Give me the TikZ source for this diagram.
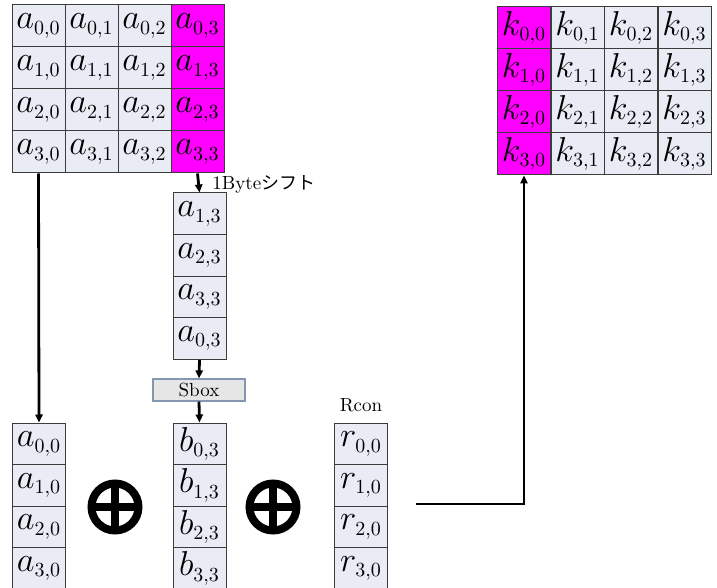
\documentclass[tikz,border=0pt]{standalone}
\usepackage{fontspec}
\newfontfamily\jpfont{Noto Sans CJK JP}
\usepackage{tikz}
\usetikzlibrary{arrows.meta,positioning,calc}
\DeclareMathSizes{16}{16}{10}{8}

\definecolor{cellfill}{RGB}{233,236,245}
\definecolor{cellline}{RGB}{60,60,60}
\definecolor{hotfill}{RGB}{255,0,255}
\definecolor{sboxfill}{RGB}{231,230,230}
\definecolor{sboxline}{RGB}{132,151,176}

\begin{document}
\begin{tikzpicture}[x=0.5pt, y=-0.5pt,
  cell/.style={draw=cellline, fill=cellfill, line width=0.5pt, minimum width=26.5pt, minimum height=21pt, inner sep=0pt, font=\fontsize{16}{18}\selectfont},
  hotcell/.style={cell, fill=hotfill},
  sboxbox/.style={draw=sboxline, fill=sboxfill, line width=0.6pt, minimum width=46pt, minimum height=11pt, inner sep=0pt, font=\fontsize{9.5}{10}\selectfont},
  label/.style={inner sep=0pt, font=\fontsize{9.5}{10}\selectfont},
  xorop/.style={circle, draw, line width=4pt, minimum size=23.5pt, inner sep=0pt,
    path picture={\draw[line width=4pt] (path picture bounding box.north) -- (path picture bounding box.south)
      (path picture bounding box.west) -- (path picture bounding box.east);}},
  arrow/.style={-{Triangle[length=4pt, width=3.6pt]}, line width=1.4pt},
]
\useasboundingbox (0,0) rectangle (717,588);

% state a (top left)
\foreach \r in {0,...,3} {
  \foreach \c in {0,1,2}
    \node[cell] (a\r\c) at ({38.5+53*\c}, {26+42*\r}) {$a_{\r,\c}$};
  \node[hotcell] (a\r3) at (197.5, {26+42*\r}) {$a_{\r,3}$};
}

% round key k (top right)
\foreach \r in {0,...,3} {
  \node[hotcell] (k\r0) at (524, {28+42*\r}) {$k_{\r,0}$};
  \foreach \c in {1,2,3}
    \node[cell] (k\r\c) at ({524+53.5*\c}, {28+42*\r}) {$k_{\r,\c}$};
}

% rotated column
\foreach \i/\r in {0/1,1/2,2/3,3/0}
  \node[cell] (m\i) at (199.5, {214+41.5*\i}) {$a_{\r,3}$};
\node[sboxbox] (sbox) at (199, 390) {Sbox};

% bottom columns
\foreach \i in {0,...,3} {
  \node[cell] (w\i) at (39, {444+41.5*\i}) {$a_{\i,0}$};
  \node[cell] (b\i) at (199.5, {444+41.5*\i}) {$b_{\i,3}$};
  \node[cell] (r\i) at (361, {444+41.5*\i}) {$r_{\i,0}$};
}
\node[label, above=5pt of r0] (rcon) {Rcon};
\node[xorop] (xor1) at (115,507) {};
\node[xorop] (xor2) at (273,507) {};

\draw[arrow] (a30.south) -- (w0.north);
\draw[arrow] (a33.south) -- (m0.north);
\node[label, anchor=west] (shift) at (212,184) {1Byte{\jpfont\fontsize{9}{10}\selectfont シフト}};
\draw[arrow] (m3.south) -- (sbox.north);
\draw[arrow] (sbox.south) -- (b0.north);

\coordinate (out) at (416,504);
\draw[arrow] (out) -| (k30.south);

\end{tikzpicture}
\end{document}
